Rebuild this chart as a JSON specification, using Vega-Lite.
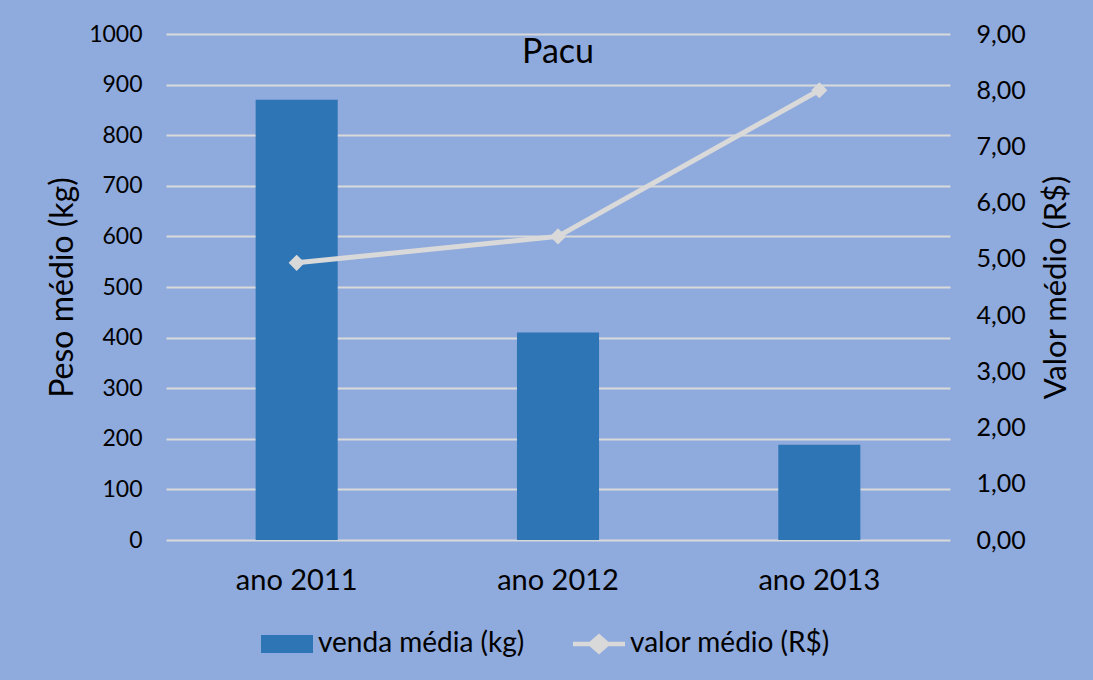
{
  "$schema": "https://vega.github.io/schema/vega-lite/v6.json",
  "autosize": {"type": "none"},
  "width": 784,
  "height": 506,
  "padding": {"left": 166, "top": 34, "right": 143, "bottom": 140},
  "background": "#8FAADC",
  "config": {
    "font": "Lato",
    "view": {"stroke": null, "fill": "#8FAADC"},
    "axis": {"labelColor": "#000000", "titleColor": "#000000", "labelFont": "Lato", "titleFont": "Lato", "titleFontWeight": "normal", "ticks": false, "tickSize": 0, "domain": false}
  },
  "title": {"text": "Pacu", "orient": "top", "anchor": "middle", "offset": -48, "fontSize": 34, "fontWeight": "normal", "font": "Lato", "color": "#000000"},
  "data": {
    "values": [
      {"ano": "ano 2011", "venda": 870, "valor": 4.93},
      {"ano": "ano 2012", "venda": 410, "valor": 5.40},
      {"ano": "ano 2013", "venda": 188, "valor": 8.00}
    ]
  },
  "encoding": {
    "x": {
      "field": "ano", "type": "nominal", "sort": null,
      "scale": {"paddingInner": 0.686, "paddingOuter": 0.343},
      "axis": {"title": null, "labelAngle": 0, "labelFontSize": 29, "labelPadding": 26, "grid": false}
    }
  },
  "layer": [
    {
      "mark": {"type": "bar", "color": "#2E75B6"},
      "encoding": {
        "y": {
          "field": "venda", "type": "quantitative",
          "scale": {"domain": [0, 1000], "nice": false},
          "axis": {"title": "Peso médio (kg)", "values": [0, 100, 200, 300, 400, 500, 600, 700, 800, 900, 1000], "format": "d", "labelFontSize": 23, "labelPadding": 24, "titleFontSize": 32, "titlePadding": 9, "grid": true, "gridColor": "#D9D9D9", "gridWidth": 2}
        },
        "color": {
          "datum": "venda média (kg)",
          "type": "nominal",
          "scale": {"domain": ["venda média (kg)", "valor médio (R$)"], "range": ["#2E75B6", "#D9D9D9"]},
          "legend": {
            "title": null,
            "orient": "none",
            "direction": "horizontal",
            "columns": 2,
            "legendX": 95,
            "legendY": 584,
            "labelFontSize": 28,
            "labelFont": "Lato",
            "labelColor": "#000000",
            "labelLimit": 0,
            "labelOffset": 5,
            "columnPadding": 48,
            "symbolSize": 2704,
            "encode": {
              "symbols": {
                "update": {
                  "shape": {"signal": "datum.value === 'venda média (kg)' ? 'M-1,-0.346H1V0.346H-1Z' : 'M-1,-0.09H-0.36L0,-0.4L0.36,-0.09H1V0.09H0.36L0,0.4L-0.36,0.09H-1Z'"},
                  "fill": {"signal": "datum.value === 'venda média (kg)' ? '#2E75B6' : '#D9D9D9'"},
                  "stroke": {"value": "transparent"},
                  "strokeWidth": {"value": 0},
                  "opacity": {"value": 1}
                }
              }
            }
          }
        }
      }
    },
    {
      "mark": {"type": "line", "strokeWidth": 5, "point": {"shape": "diamond", "size": 260, "filled": true, "fill": "#D9D9D9", "opacity": 1}},
      "encoding": {
        "y": {
          "field": "valor", "type": "quantitative",
          "scale": {"domain": [0, 9], "nice": false},
          "axis": {"orient": "right", "title": "Valor médio (R$)", "titleAngle": 270, "titleBaseline": "top", "values": [0, 1, 2, 3, 4, 5, 6, 7, 8, 9], "labelExpr": "replace(format(datum.value, '.2f'), '.', ',')", "labelFontSize": 25, "labelPadding": 26, "titleFontSize": 31, "titlePadding": 16, "grid": false}
        },
        "color": {"datum": "valor médio (R$)", "type": "nominal"}
      }
    }
  ],
  "resolve": {"scale": {"y": "independent"}}
}
